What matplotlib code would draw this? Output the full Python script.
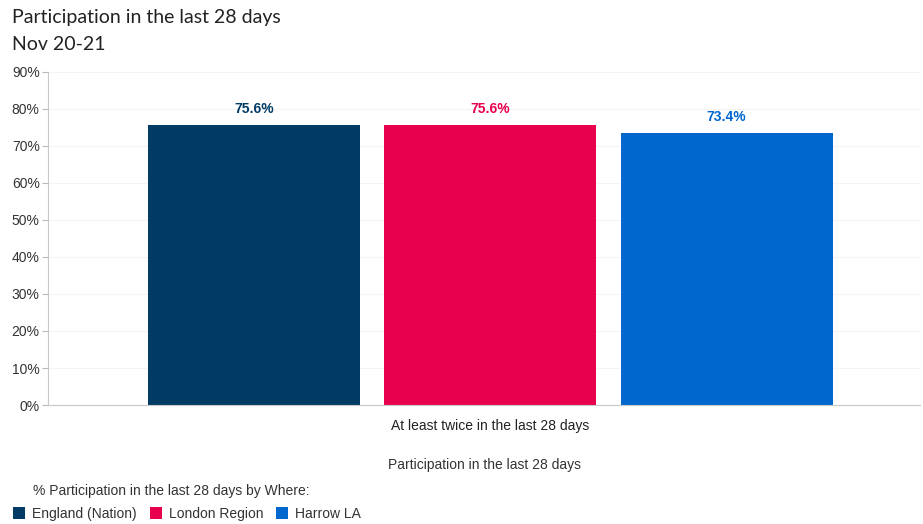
import matplotlib.pyplot as plt
import numpy as np

categories = ['At least twice in the last 28 days']
series = ['England (Nation)', 'London Region', 'Harrow LA']
values = [75.6, 75.6, 73.4]
colors = ['#003b65', '#e8004f', '#0067cf']
yticks = [0, 10, 20, 30, 40, 50, 60, 70, 80, 90]

plt.rcParams['font.family'] = ['Liberation Sans', 'DejaVu Sans']

fig = plt.figure(figsize=(9.23, 5.24), dpi=100)
ax = fig.add_axes([0.052, 0.227, 0.945, 0.636])

width = 0.243
offsets = [-0.271, 0, 0.271]
x = np.arange(len(categories))
for name, v, c, off in zip(series, values, colors, offsets):
    ax.bar(x + off, [v], width=width, color=c, label=name, zorder=2)
    ax.text(x[0] + off, v + 2.5, f'{v}%', ha='center', va='bottom',
            color=c, fontsize=10, fontweight='bold')

ax.set_xlim(-0.507, 0.493)
ax.set_ylim(0, 90)
ax.set_yticks(yticks)
ax.set_yticklabels([f'{t}%' for t in yticks], color='#333333', fontsize=10)
ax.set_xticks(x)
ax.set_xticklabels(categories, color='#222222', fontsize=10)
ax.tick_params(axis='x', length=0, pad=10)
ax.tick_params(axis='y', length=4, color='#bbbbbb', pad=2)
ax.yaxis.grid(True, color='#f4f4f4', linewidth=0.8, zorder=0)
for s in ['top', 'right']:
    ax.spines[s].set_visible(False)
ax.spines['left'].set_color('#c8c8c8')
ax.spines['bottom'].set_color('#c8c8c8')
ax.set_xlabel('Participation in the last 28 days', color='#333333',
              fontsize=10, labelpad=18)

fig.text(0.013, 0.966, 'Participation in the last 28 days', fontsize=14,
         color='#222222', va='center', family=['Lato', 'DejaVu Sans'])
fig.text(0.013, 0.916, 'Nov 20-21', fontsize=14, color='#222222',
         va='center', family=['Lato', 'DejaVu Sans'])

fig.text(0.036, 1 - 491 / 524, '% Participation in the last 28 days by Where:',
         fontsize=10, color='#333333', va='center')
leg = fig.legend(loc='center left', bbox_to_anchor=(0.008, 1 - 514 / 524),
                 ncol=3, frameon=False, fontsize=10, handlelength=0.9,
                 handleheight=0.9, handletextpad=0.5, columnspacing=0.9,
                 borderaxespad=0)
for t in leg.get_texts():
    t.set_color('#333333')

fig.savefig('out.png', dpi=100, facecolor='white')
